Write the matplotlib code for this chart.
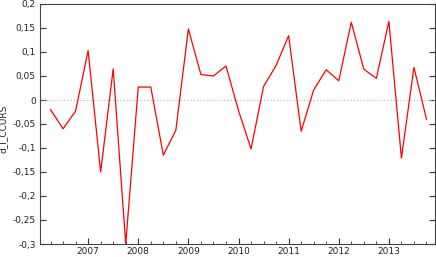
import matplotlib
matplotlib.use('Agg')
import matplotlib.pyplot as plt
from matplotlib.ticker import FuncFormatter, MultipleLocator

# quarterly series, 2006Q2 .. 2013Q4
start_year = 2006
start_quarter = 2
d_l_ccurs = [-0.020, -0.060, -0.023, 0.103, -0.150, 0.065, -0.300, 0.027,
             0.027, -0.115, -0.063, 0.148, 0.053, 0.050, 0.071, -0.022,
             -0.102, 0.028, 0.072, 0.134, -0.065, 0.021, 0.063, 0.040,
             0.162, 0.064, 0.045, 0.164, -0.121, 0.068, -0.040]
year_ticks = [2007, 2008, 2009, 2010, 2011, 2012, 2013]

t = [start_year + (start_quarter - 1 + i) / 4 for i in range(len(d_l_ccurs))]


def comma_fmt(v, pos):
    s = '%g' % round(v, 4)
    if s == '-0':
        s = '0'
    return s.replace('.', ',')


fig = plt.figure(figsize=(4.36, 2.57), dpi=100)
ax = fig.add_axes([40 / 436, 13 / 257, 395 / 436, 240 / 257])

ax.axhline(0, color='#b0b0b0', lw=0.8, ls=(0, (1, 2)))
ax.plot(t, d_l_ccurs, color='#ff0000', lw=0.9)

ax.set_xlim(2006.04, 2013.92)
ax.set_ylim(-0.3, 0.2)
ax.set_xticks(year_ticks)
ax.set_xticklabels([str(y) for y in year_ticks])
ax.xaxis.set_minor_locator(MultipleLocator(0.25))
ax.yaxis.set_major_locator(MultipleLocator(0.05))
ax.yaxis.set_major_formatter(FuncFormatter(comma_fmt))

ax.tick_params(axis='both', which='both', direction='in', labelsize=6.5,
               colors='#333333', labelcolor='#222222')
ax.tick_params(axis='y', which='major', length=4, right=True, pad=3)
ax.tick_params(axis='x', which='major', length=4, pad=2)
ax.tick_params(axis='x', which='minor', length=2)
for s in ax.spines.values():
    s.set_color('#444444')
    s.set_linewidth(0.8)

ax.set_ylabel('d_l_CCURS', fontsize=6.5, color='#222222')
ax.yaxis.set_label_coords(-0.082, 0.48)

fig.savefig('out.png', dpi=100)
